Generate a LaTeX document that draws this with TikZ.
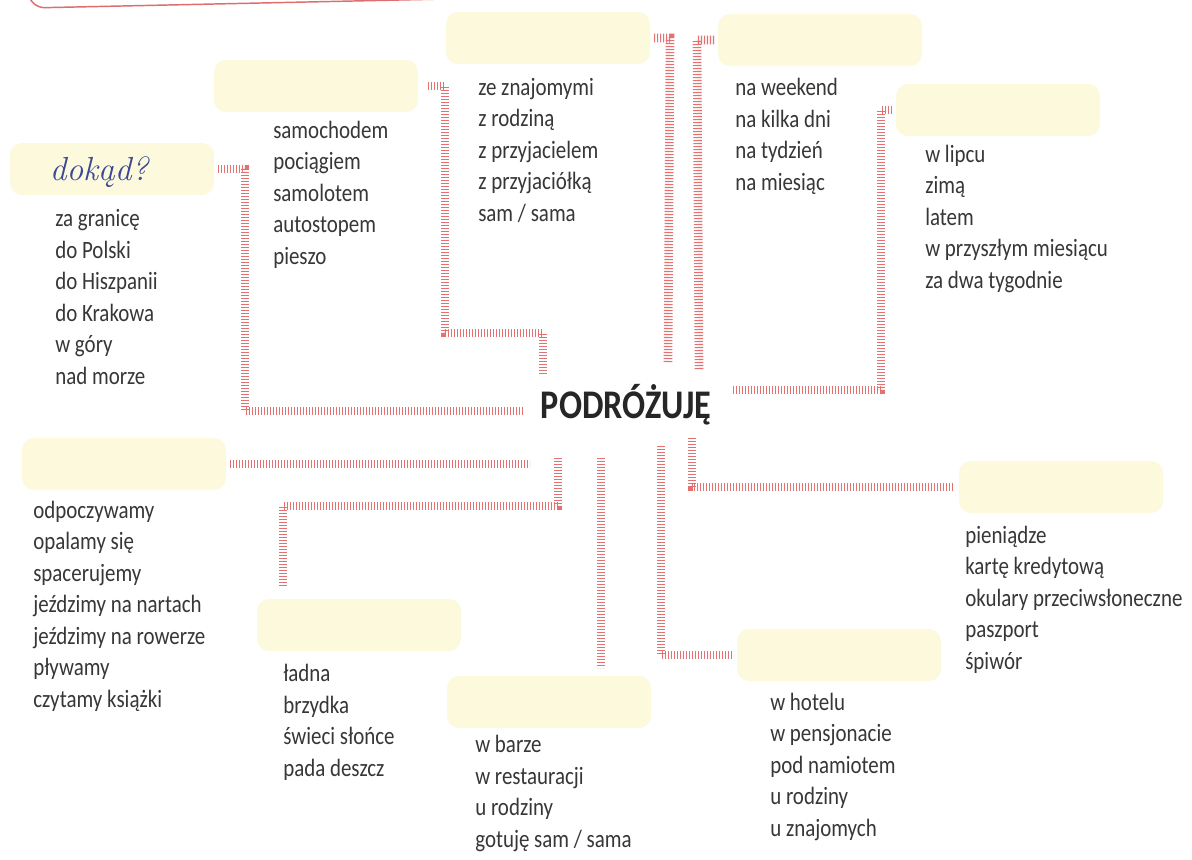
\documentclass[tikz,border=0pt]{standalone}
\usepackage{fontspec}
\setmainfont{Carlito}
\newfontfamily\listfont{Carlito}[FakeStretch=0.84]
\newfontfamily\askfont{Latin Modern Roman}

\definecolor{slotyellow}{RGB}{252,249,221}
\definecolor{tickred}{RGB}{228,112,112}
\definecolor{listgray}{RGB}{55,55,55}
\definecolor{askblue}{RGB}{58,72,150}
\definecolor{framered}{RGB}{222,110,110}

\tikzset{
  slot/.style={fill=slotyellow, rounded corners=9pt, minimum width=153pt, minimum height=39pt, inner sep=0pt, outer sep=0pt},
  list/.style={font=\listfont\fontsize{18.7pt}{23.6pt}\selectfont, align=left, inner sep=0pt, text=listgray, anchor=base west},
  ruler/.style={draw=tickred, line width=6.5pt, dash pattern=on 0.9pt off 1.35pt},
}

\begin{document}
\begin{tikzpicture}[x=0.75pt,y=0.75pt,yscale=-1,xscale=1]
\useasboundingbox (0,0) rectangle (1192,860);
\fill[white] (0,0) rectangle (1192,860);
\clip (0,0) rectangle (1192,860);

%Shape: Frame [id:frame] 
\draw[framered, line width=1.1pt, rounded corners=12pt]    (27,-40) -- (29,8) -- (446,-1) ;

%Rounded Rect 
\node[slot] (where) at (112,169) {};
\node[slot] (how) at (316,86) {};
\node[slot] (with) at (548,38) {};
\node[slot] (long) at (820,40) {};
\node[slot] (when) at (998,110) {};
\node[slot] (act) at (124,464) {};
\node[slot] (weather) at (359,625) {};
\node[slot] (food) at (549,702) {};
\node[slot] (stay) at (839,655) {};
\node[slot] (pack) at (1061,487) {};

%Text Node 
\node[inner sep=0pt, text=askblue, font=\askfont\itshape\fontsize{25pt}{28pt}\selectfont] (ask) at (99,172) {dokąd?};
\node[inner sep=0pt, anchor=base, text=black!85, font=\listfont\bfseries\fontsize{30.5pt}{34pt}\selectfont] (trip) at (626,418) {PODRÓŻUJĘ};

%lists: anchored at the baseline of their last line
\node[list] (whereList) at (55,384) {za granicę\\do Polski\\do Hiszpanii\\do Krakowa\\w góry\\nad morze};
\node[list] (howList) at (273,264) {samochodem\\pociągiem\\samolotem\\autostopem\\pieszo};
\node[list] (withList) at (478,221) {ze znajomymi\\z rodziną\\z przyjacielem\\z przyjaciółką\\sam / sama};
\node[list] (longList) at (735,190) {na weekend\\na kilka dni\\na tydzień\\na miesiąc};
\node[list] (whenList) at (925,288) {w lipcu\\zimą\\latem\\w przyszłym miesiącu\\za dwa tygodnie};
\node[list] (actList) at (33,707) {odpoczywamy\\opalamy się\\spacerujemy\\jeździmy na nartach\\jeździmy na rowerze\\pływamy\\czytamy książki};
\node[list] (weatherList) at (283,776) {ładna\\brzydka\\świeci słońce\\pada deszcz};
\node[list] (foodList) at (475,847) {w barze\\w restauracji\\u rodziny\\gotuję sam / sama};
\node[list] (stayList) at (770,836) {w hotelu\\w pensjonacie\\pod namiotem\\u rodziny\\u znajomych};
\node[list] (packList) at (965,669) {pieniądze\\kartę kredytową\\okulary przeciwsłoneczne\\paszport\\śpiwór};

%Straight Lines 
\coordinate (e1) at (524,411);
\coordinate (k2) at (543,333);
\coordinate (e2) at (543,374);
\coordinate (e3) at (668,362);
\coordinate (e4) at (699,370);
\coordinate (e5) at (732,390);
\coordinate (e6) at (530,464);
\coordinate (e7) at (558,458);
\coordinate (k7) at (283,506);
\coordinate (e8) at (601,458);
\coordinate (e9) at (661,446);
\coordinate (e10) at (692,438);

\draw[ruler]    (where.east) ++(4,0) -- ++(27,0) |- (e1) ;
\draw[ruler]    (how.east) ++(10,0) -- ++(17,0) |- (k2) -- (e2) ;
\draw[ruler]    (with.east) ++(4,0) -- ++(16,0) -- (e3) ;
\draw[ruler]    (long.west) ++(-4,0) -- ++(-17,0) -- (e4) ;
\draw[ruler]    (when.west) ++(-4,0) -- ++(-11,0) |- (e5) ;
\draw[ruler]    (act.east) ++(4,0) -- (e6) ;
\draw[ruler, shorten >=10pt]    (e7) |- (k7) -- (k7 |- weather.north) ;
\draw[ruler, shorten >=6pt]    (e8) -- (e8 |- food.north) ;
\draw[ruler, shorten >=3pt]    (e9) |- (stay.west) ;
\draw[ruler, shorten >=4pt]    (e10) |- (pack.west) ;

\end{tikzpicture}
\end{document}
